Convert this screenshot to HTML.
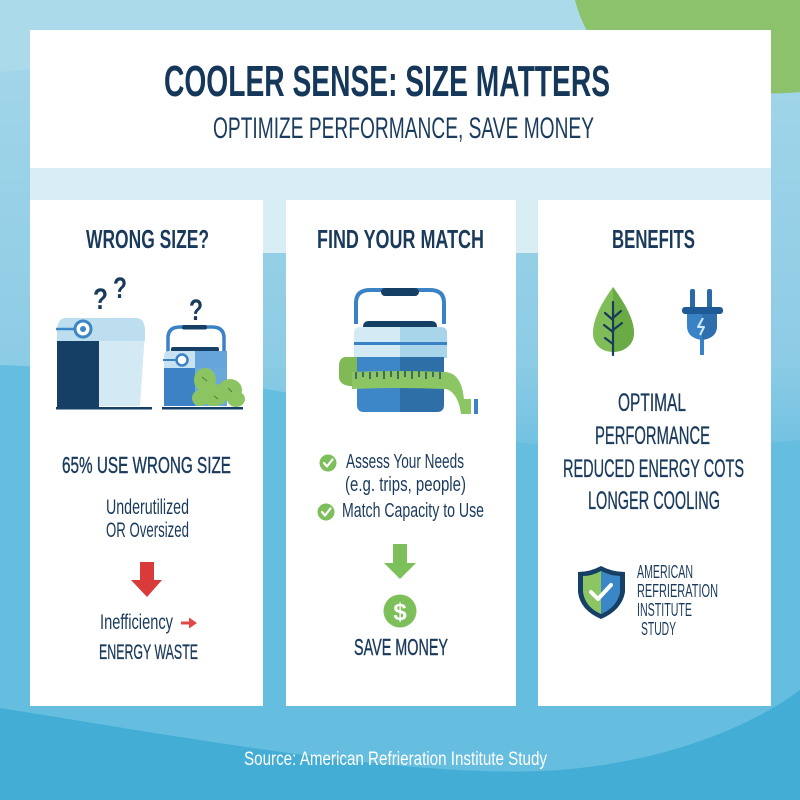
<!DOCTYPE html>
<html>
<head>
<meta charset="utf-8">
<style>
html,body{margin:0;padding:0;width:800px;height:800px;overflow:hidden;background:#5db9dd;}
svg{display:block;}
text{font-family:"Liberation Sans","DejaVu Sans",sans-serif;}
</style>
</head>
<body>
<svg width="800" height="800" viewBox="0 0 800 800" xmlns="http://www.w3.org/2000/svg">
<defs>
<linearGradient id="bg" x1="0" y1="0" x2="0" y2="1">
<stop offset="0" stop-color="#a6d7ea"/>
<stop offset="0.45" stop-color="#8dcce5"/>
<stop offset="0.6" stop-color="#68bee0"/>
<stop offset="0.88" stop-color="#5ab7dc"/>
<stop offset="1" stop-color="#44add6"/>
</linearGradient>
<clipPath id="shR"><rect x="601" y="560" width="30" height="70"/></clipPath>
<clipPath id="leafR"><rect x="613" y="280" width="30" height="80"/></clipPath>
<clipPath id="plugR"><rect x="702" y="280" width="30" height="80"/></clipPath>
</defs>

<!-- background -->
<rect x="0" y="0" width="800" height="800" fill="url(#bg)"/>
<path d="M0,0 L800,0 L800,20 C600,30 300,40 0,72 Z" fill="#abdaeb"/>
<path d="M0,365 C120,370 220,380 300,395 C420,420 520,470 800,440 L800,800 L0,800 Z" fill="#65bddf"/>
<path d="M0,708 C200,740 420,780 560,770 C680,760 760,720 800,690 L800,800 L0,800 Z" fill="#44add6"/>
<path d="M575,0 C585,40 610,70 660,82 C700,92 760,96 800,92 L800,0 Z" fill="#8cc26b"/>

<!-- header -->
<rect x="30" y="30" width="741" height="139" fill="#ffffff"/>
<rect x="30" y="168" width="741" height="85" fill="#d9edf5"/>

<text x="164" y="96" font-size="44" font-weight="bold" fill="#14375a" textLength="446" lengthAdjust="spacingAndGlyphs">COOLER SENSE: SIZE MATTERS</text>
<text x="213" y="138" font-size="30" fill="#1b3c5e" textLength="381" lengthAdjust="spacingAndGlyphs">OPTIMIZE PERFORMANCE, SAVE MONEY</text>

<!-- cards -->
<rect x="30" y="200" width="233" height="506" fill="#ffffff"/>
<rect x="286" y="200" width="230" height="506" fill="#ffffff"/>
<rect x="538" y="200" width="233" height="506" fill="#ffffff"/>

<g fill="#1a3a5c" font-weight="bold">
<text x="86" y="248" font-size="26" textLength="123" lengthAdjust="spacingAndGlyphs">WRONG SIZE?</text>
<text x="317" y="248" font-size="26" textLength="167" lengthAdjust="spacingAndGlyphs">FIND YOUR MATCH</text>
<text x="612" y="248" font-size="26" textLength="83" lengthAdjust="spacingAndGlyphs">BENEFITS</text>
</g>

<!-- LEFT CARD ICONS -->
<g fill="#1a3a5c" font-weight="bold" font-size="30">
<text x="93" y="309" textLength="15" lengthAdjust="spacingAndGlyphs">?</text>
<text x="113" y="298" textLength="14" lengthAdjust="spacingAndGlyphs">?</text>
<text x="189" y="320" textLength="14" lengthAdjust="spacingAndGlyphs">?</text>
</g>
<!-- big cooler -->
<path d="M57,332 Q57,318 66,318 L136,318 Q145,318 145,332 L140,406 L62,406 Z" fill="#d3eaf5"/>
<path d="M57,332 Q57,318 66,318 L136,318 Q145,318 145,332 L145,341 L57,341 Z" fill="#bcdeef"/>
<rect x="57" y="341" width="42" height="66" fill="#163f66"/>
<line x1="56" y1="329" x2="78" y2="329" stroke="#3b86c6" stroke-width="2.5"/>
<circle cx="83" cy="329" r="8" fill="#ffffff" stroke="#3b86c6" stroke-width="3"/>
<circle cx="83" cy="329" r="3" fill="#3b86c6"/>
<rect x="56" y="407" width="96" height="2.5" fill="#163f66"/>
<!-- small cooler -->
<path d="M168,352 L168,338 Q168,327 180,327 L212,327 Q224,327 224,338 L224,352" fill="none" stroke="#3b82c4" stroke-width="3.5"/>
<rect x="182" y="325" width="25" height="4.5" rx="2" fill="#163f66"/>
<rect x="171" y="347" width="48" height="5" rx="2" fill="#163f66"/>
<path d="M164,356 Q164,351 169,351 L222,351 Q227,351 227,356 L227,368 L164,368 Z" fill="#c9e2f2"/>
<rect x="164" y="368" width="31" height="38" fill="#3c82c4"/>
<rect x="195" y="351" width="32" height="55" fill="#5b9fd6" opacity="0.9"/>
<rect x="164" y="368" width="31" height="38" fill="#3c82c4"/>
<line x1="163" y1="360" x2="177" y2="360" stroke="#3b82c4" stroke-width="2"/>
<circle cx="182" cy="360" r="5.5" fill="#ffffff" stroke="#3b82c4" stroke-width="2.5"/>
<g fill="#8cc462">
<ellipse cx="205" cy="380" rx="11" ry="12"/>
<ellipse cx="214" cy="395" rx="14" ry="11"/>
<ellipse cx="230" cy="390" rx="12" ry="11"/>
<ellipse cx="236" cy="399" rx="9" ry="8"/>
<ellipse cx="200" cy="398" rx="8" ry="8"/>
</g>
<g stroke="#4d7d3a" stroke-width="1">
<line x1="202" y1="377" x2="207" y2="381"/>
<line x1="228" y1="388" x2="232" y2="392"/>
<line x1="214" y1="396" x2="218" y2="399"/>
</g>
<rect x="162" y="407" width="81" height="2.5" fill="#163f66"/>

<!-- LEFT CARD TEXT -->
<g fill="#1a3a5c">
<text x="62" y="473" font-size="23" stroke="#1a3a5c" stroke-width="0.4" textLength="169" lengthAdjust="spacingAndGlyphs">65% USE WRONG SIZE</text>
<text x="106" y="514" font-size="21" textLength="83" lengthAdjust="spacingAndGlyphs">Underutilized</text>
<text x="106" y="537" font-size="21" textLength="83" lengthAdjust="spacingAndGlyphs">OR Oversized</text>
<text x="100" y="629" font-size="21" textLength="73" lengthAdjust="spacingAndGlyphs">Inefficiency</text>
<text x="99" y="659" font-size="21" stroke="#1a3a5c" stroke-width="0.3" textLength="99" lengthAdjust="spacingAndGlyphs">ENERGY WASTE</text>
</g>
<polygon points="140,562 154,562 154,580 162,580 147,597 131,580 140,580" fill="#d93a3a"/>
<line x1="181" y1="623" x2="191" y2="623" stroke="#e04848" stroke-width="3"/>
<polygon points="189,617.5 197,623 189,628.5" fill="#e04848"/>

<!-- MIDDLE CARD ICON -->
<path d="M356,324 L356,303 Q356,290 370,290 L430,290 Q444,290 444,303 L444,324" fill="none" stroke="#3a82c6" stroke-width="4"/>
<rect x="381" y="288" width="38" height="8" rx="4" fill="#163f66"/>
<path d="M363,327 Q363,321 369,321 L431,321 Q437,321 437,327 Z" fill="#163f66"/>
<path d="M354,333 Q354,327 360,327 L400,327 L400,358 L354,358 Z" fill="#d4ebf6"/>
<path d="M400,327 L441,327 Q447,327 447,333 L447,358 L400,358 Z" fill="#a9d5ea"/>
<rect x="354" y="342" width="93" height="3" fill="#3a82c6"/>
<path d="M357,357 L400,357 L400,412 L364,412 Q357,412 357,405 Z" fill="#3d86c8"/>
<path d="M400,357 L444,357 L444,405 Q444,412 437,412 L400,412 Z" fill="#2f6fa8"/>
<!-- tape -->
<path d="M357,357 L345,357 Q339,358 339,366 L339,378 Q340,385 350,386 L357,386 Z" fill="#7fba57"/>
<path d="M352,372 Q400,370 444,372 L444,389 Q400,387 352,389 Z" fill="#8cc664"/>
<path d="M444,372 C455,372 462,380 464,399 L471,399 L471,414 L461,414 C459,398 452,389 444,389 Z" fill="#8cc664"/>
<rect x="474" y="399" width="4" height="15" fill="#3a82c6"/>
<g stroke="#1a3a5c" stroke-width="1.3">
<line x1="356" y1="372" x2="356" y2="379"/>
<line x1="363" y1="372" x2="363" y2="377"/>
<line x1="370" y1="372" x2="370" y2="379"/>
<line x1="377" y1="372" x2="377" y2="377"/>
<line x1="384" y1="371" x2="384" y2="379"/>
<line x1="391" y1="371" x2="391" y2="377"/>
<line x1="398" y1="371" x2="398" y2="379"/>
<line x1="405" y1="371" x2="405" y2="377"/>
<line x1="412" y1="371" x2="412" y2="379"/>
<line x1="419" y1="371" x2="419" y2="377"/>
<line x1="426" y1="372" x2="426" y2="379"/>
<line x1="433" y1="372" x2="433" y2="377"/>
<line x1="440" y1="372" x2="440" y2="379"/>
</g>

<!-- MIDDLE CARD TEXT -->
<circle cx="328" cy="463" r="8.5" fill="#7dbf5a"/>
<polyline points="324,463 327,466.5 332.5,459.5" fill="none" stroke="#ffffff" stroke-width="2.2" stroke-linecap="round" stroke-linejoin="round"/>
<circle cx="326" cy="512" r="8.5" fill="#7dbf5a"/>
<polyline points="322,512 325,515.5 330.5,508.5" fill="none" stroke="#ffffff" stroke-width="2.2" stroke-linecap="round" stroke-linejoin="round"/>
<g fill="#1a3a5c">
<text x="346" y="468" font-size="20" textLength="118" lengthAdjust="spacingAndGlyphs">Assess Your Needs</text>
<text x="345" y="491" font-size="20" textLength="121" lengthAdjust="spacingAndGlyphs">(e.g. trips, people)</text>
<text x="342" y="517" font-size="20" textLength="142" lengthAdjust="spacingAndGlyphs">Match Capacity to Use</text>
<text x="354" y="655" font-size="23" stroke="#1a3a5c" stroke-width="0.4" textLength="94" lengthAdjust="spacingAndGlyphs">SAVE MONEY</text>
</g>
<polygon points="393,544 407,544 407,563 416,563 400,579 384,563 393,563" fill="#7dbf5a"/>
<circle cx="400" cy="611" r="16.5" fill="#7dbf5a"/>
<text x="400" y="620" font-size="24" font-weight="bold" fill="#ffffff" text-anchor="middle">$</text>

<!-- RIGHT CARD ICONS -->
<path d="M613,287 C600,305 593,320 593,333 C593,345 602,352 613,352 C624,352 634,345 634,333 C634,320 626,305 613,287 Z" fill="#80bd58"/>
<path d="M613,287 C600,305 593,320 593,333 C593,345 602,352 613,352 C624,352 634,345 634,333 C634,320 626,305 613,287 Z" fill="#6aab45" clip-path="url(#leafR)"/>
<g stroke="#1a3a5c" stroke-width="2.2" stroke-linecap="round" fill="none">
<line x1="613" y1="302" x2="613" y2="355"/>
<line x1="613" y1="320" x2="605" y2="313"/>
<line x1="613" y1="318" x2="621" y2="311"/>
<line x1="613" y1="332" x2="604" y2="325"/>
<line x1="613" y1="330" x2="622" y2="323"/>
<line x1="613" y1="344" x2="605" y2="338"/>
</g>
<rect x="690" y="289" width="5" height="21" rx="2" fill="#2a6aa8"/>
<rect x="707" y="289" width="5" height="21" rx="2" fill="#2a6aa8"/>
<rect x="682" y="307" width="41" height="7" rx="3" fill="#1e5a96"/>
<path d="M687,314 L717,314 L717,326 Q717,338 702,340 Q687,338 687,326 Z" fill="#3a82c6"/>
<path d="M687,314 L717,314 L717,326 Q717,338 702,340 Q687,338 687,326 Z" fill="#2f6fae" clip-path="url(#plugR)"/>
<polyline points="703,318 698,327 704,327 700,335" fill="none" stroke="#cfe8f7" stroke-width="2" stroke-linejoin="round"/>
<rect x="700" y="339" width="4" height="16" fill="#3a82c6"/>

<!-- RIGHT CARD TEXT -->
<g fill="#1a3a5c" stroke="#1a3a5c" stroke-width="0.35">
<text x="618" y="411" font-size="25" textLength="68" lengthAdjust="spacingAndGlyphs">OPTIMAL</text>
<text x="595" y="444" font-size="25" textLength="115" lengthAdjust="spacingAndGlyphs">PERFORMANCE</text>
<text x="563" y="477" font-size="25" textLength="181" lengthAdjust="spacingAndGlyphs">REDUCED ENERGY COTS</text>
<text x="588" y="509" font-size="25" textLength="132" lengthAdjust="spacingAndGlyphs">LONGER COOLING</text>
</g>

<!-- shield -->
<path d="M601,566 Q590,572 578,572 L578,592 Q580,610 601,619 Q622,610 625,592 L625,572 Q612,572 601,566 Z" fill="#163f66"/>
<path d="M601,571 Q592,576 583,576 L583,592 Q585,607 601,614 Q617,607 620,592 L620,576 Q610,576 601,571 Z" fill="#8cc664"/>
<path d="M601,571 Q592,576 583,576 L583,592 Q585,607 601,614 Q617,607 620,592 L620,576 Q610,576 601,571 Z" fill="#3a86c6" clip-path="url(#shR)"/>
<polyline points="591,592 598,599 611,585" fill="none" stroke="#ffffff" stroke-width="4" stroke-linecap="round" stroke-linejoin="round"/>
<g fill="#1a3a5c">
<text x="637" y="578" font-size="18" textLength="56" lengthAdjust="spacingAndGlyphs">AMERICAN</text>
<text x="637" y="597" font-size="18" textLength="81" lengthAdjust="spacingAndGlyphs">REFRIERATION</text>
<text x="637" y="616" font-size="18" textLength="55" lengthAdjust="spacingAndGlyphs">INSTITUTE</text>
<text x="641" y="635" font-size="18" textLength="35" lengthAdjust="spacingAndGlyphs">STUDY</text>
</g>

<!-- source -->
<text x="244" y="765" font-size="19" fill="#ffffff" textLength="303" lengthAdjust="spacingAndGlyphs">Source: American Refrieration Institute Study</text>
</svg>
</body>
</html>
